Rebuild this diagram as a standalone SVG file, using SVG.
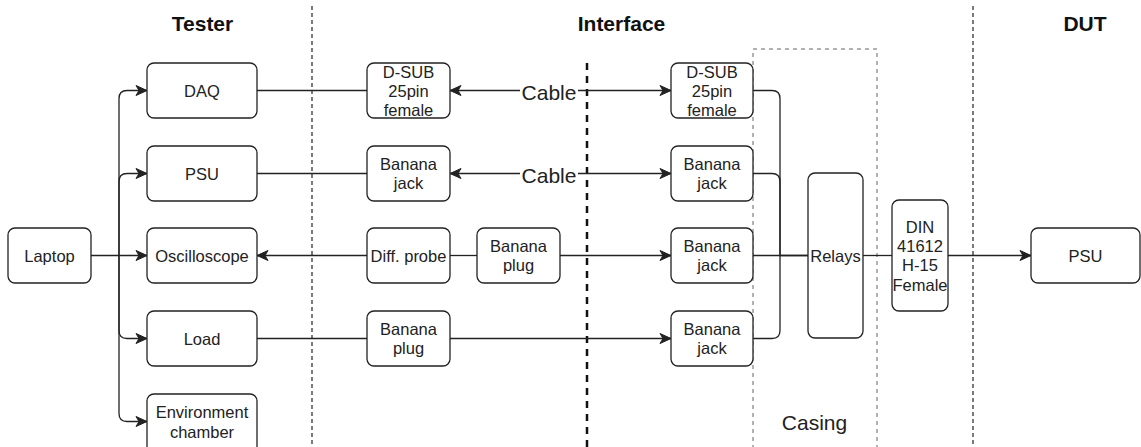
<svg xmlns="http://www.w3.org/2000/svg" width="1141" height="447" viewBox="0 0 1141 447">
<style>
.box{fill:#fff;stroke:#222;stroke-width:1.3}
.t{font-family:"Liberation Sans",Arial,sans-serif;font-size:16.5px;fill:#222;text-anchor:middle}
.title{font-family:"Liberation Sans",Arial,sans-serif;font-size:21px;font-weight:bold;fill:#111;text-anchor:middle}
.big{font-family:"Liberation Sans",Arial,sans-serif;font-size:21px;fill:#222;text-anchor:middle}
.c{fill:none;stroke:#222;stroke-width:1.3}
.div{stroke:#222;stroke-width:1.2;stroke-dasharray:4 3}
</style>
<defs>
<marker id="arr" markerUnits="userSpaceOnUse" markerWidth="14" markerHeight="12" viewBox="0 0 14 12" refX="12" refY="6" orient="auto-start-reverse">
<path d="M1,1 L12,6 L1,11 L4,6 Z" fill="#222" stroke="#222" stroke-width="1"/>
</marker>
</defs>
<rect width="1141" height="447" fill="#fff"/>
<g id="dividers">
<line class="div" x1="312" y1="6" x2="312" y2="447"/>
<line class="div" x1="973" y1="6" x2="973" y2="447"/>
<line x1="587" y1="63" x2="587" y2="447" stroke="#111" stroke-width="2.5" stroke-dasharray="7 6"/>
</g>
<g id="casing">
<rect x="753" y="49" width="124" height="420" fill="none" stroke="#999" stroke-width="1.5" stroke-dasharray="4 4"/>
<text class="big" x="814.5" y="430">Casing</text>
</g>
<g id="titles">
<text class="title" x="202.5" y="31">Tester</text>
<text class="title" x="621.5" y="31">Interface</text>
<text class="title" x="1085" y="31">DUT</text>
</g>
<g id="connectors">
<path class="c" d="M91,255.5 H147" marker-end="url(#arr)"/>
<path class="c" d="M119,255.5 V98.5 Q119,90.5 127,90.5 H147" marker-end="url(#arr)"/>
<path class="c" d="M119,255.5 V181.5 Q119,173.5 127,173.5 H147" marker-end="url(#arr)"/>
<path class="c" d="M119,255.5 V330.5 Q119,338.5 127,338.5 H147" marker-end="url(#arr)"/>
<path class="c" d="M119,255.5 V413.5 Q119,421.5 127,421.5 H147" marker-end="url(#arr)"/>
<path class="c" d="M257,90.5 H367"/>
<path class="c" d="M257,173.5 H367"/>
<path class="c" d="M367,255.5 H257" marker-end="url(#arr)"/>
<path class="c" d="M257,338.5 H367"/>
<path class="c" d="M450,90.5 H671" marker-start="url(#arr)" marker-end="url(#arr)"/>
<path class="c" d="M450,173.5 H671" marker-start="url(#arr)" marker-end="url(#arr)"/>
<path class="c" d="M450,255.5 H477"/>
<path class="c" d="M560,255.5 H671" marker-end="url(#arr)"/>
<path class="c" d="M450,338.5 H671" marker-end="url(#arr)"/>
<path class="c" d="M753,90.5 H772 Q780,90.5 780,98.5 V255.5 H808"/>
<path class="c" d="M753,173.5 H772 Q780,173.5 780,181.5 V255.5"/>
<path class="c" d="M753,255.5 H808"/>
<path class="c" d="M753,338.5 H772 Q780,338.5 780,330.5 V255.5"/>
<path class="c" d="M863,255.5 H892"/>
<path class="c" d="M948,255.5 H1031" marker-end="url(#arr)"/>
<rect x="520" y="81" width="58" height="22" fill="#fff"/>
<text class="big" x="549" y="100">Cable</text>
<rect x="520" y="164" width="58" height="22" fill="#fff"/>
<text class="big" x="549" y="183">Cable</text>
</g>
<g id="laptop"><rect class="box" x="8" y="228" width="83" height="55" rx="7"/><text class="t" x="49.5" y="261.5">Laptop</text></g>
<g id="daq"><rect class="box" x="147" y="63" width="110" height="55" rx="7"/><text class="t" x="202" y="96.5">DAQ</text></g>
<g id="psu-tester"><rect class="box" x="147" y="146" width="110" height="55" rx="7"/><text class="t" x="202" y="179.5">PSU</text></g>
<g id="oscilloscope"><rect class="box" x="147" y="228" width="110" height="55" rx="7"/><text class="t" x="202" y="261.5">Oscilloscope</text></g>
<g id="load"><rect class="box" x="147" y="311" width="110" height="55" rx="7"/><text class="t" x="202" y="344.5">Load</text></g>
<g id="env"><rect class="box" x="147" y="394" width="110" height="60" rx="7"/><text class="t" x="202" y="418">Environment</text><text class="t" x="202" y="437.5">chamber</text></g>
<g id="dsub-left"><rect class="box" x="367" y="63" width="83" height="55" rx="7"/><text class="t" x="408.5" y="77.5">D-SUB</text><text class="t" x="408.5" y="96.5">25pin</text><text class="t" x="408.5" y="115.5">female</text></g>
<g id="jack-left"><rect class="box" x="367" y="146" width="83" height="55" rx="7"/><text class="t" x="408.5" y="170">Banana</text><text class="t" x="408.5" y="189">jack</text></g>
<g id="diffprobe"><rect class="box" x="367" y="228" width="83" height="55" rx="7"/><text class="t" x="408.5" y="261.5">Diff. probe</text></g>
<g id="plug-mid"><rect class="box" x="477" y="228" width="83" height="55" rx="7"/><text class="t" x="518.5" y="252">Banana</text><text class="t" x="518.5" y="271">plug</text></g>
<g id="plug-left"><rect class="box" x="367" y="311" width="83" height="55" rx="7"/><text class="t" x="408.5" y="335">Banana</text><text class="t" x="408.5" y="354">plug</text></g>
<g id="dsub-right"><rect class="box" x="671" y="63" width="82" height="55" rx="7"/><text class="t" x="712" y="77.5">D-SUB</text><text class="t" x="712" y="96.5">25pin</text><text class="t" x="712" y="115.5">female</text></g>
<g id="jack-right-1"><rect class="box" x="671" y="146" width="82" height="55" rx="7"/><text class="t" x="712" y="170">Banana</text><text class="t" x="712" y="189">jack</text></g>
<g id="jack-right-2"><rect class="box" x="671" y="228" width="82" height="55" rx="7"/><text class="t" x="712" y="252">Banana</text><text class="t" x="712" y="271">jack</text></g>
<g id="jack-right-3"><rect class="box" x="671" y="311" width="82" height="55" rx="7"/><text class="t" x="712" y="335">Banana</text><text class="t" x="712" y="354">jack</text></g>
<g id="relays"><rect class="box" x="808" y="173" width="55" height="165" rx="7"/><text class="t" x="835.5" y="261.5">Relays</text></g>
<g id="din"><rect class="box" x="892" y="200" width="56" height="111" rx="7"/><text class="t" x="920" y="232.5">DIN</text><text class="t" x="920" y="251.5">41612</text><text class="t" x="920" y="271">H-15</text><text class="t" x="920" y="290.5">Female</text></g>
<g id="psu-dut"><rect class="box" x="1031" y="228" width="109" height="55" rx="7"/><text class="t" x="1085.5" y="261.5">PSU</text></g>
</svg>
